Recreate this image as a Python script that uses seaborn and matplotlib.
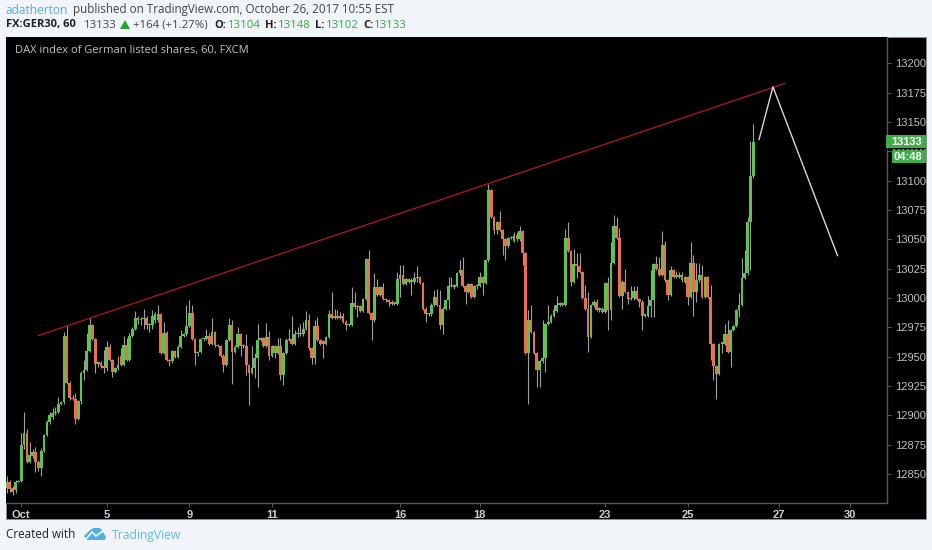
"""DAX hourly candles with hand drawn trend line, TradingView snapshot style."""
import numpy as np
import pandas as pd
import matplotlib

matplotlib.use("Agg")
import matplotlib.pyplot as plt
from matplotlib.lines import Line2D
from matplotlib.patches import Polygon, Rectangle
import seaborn as sns

W, H = 932, 550

opens = [
    12838,12843,12838,12836,12843,12844,12875,12885,12860,12865,
    12869,12860,12855,12870,12883,12894,12899,12902,12903,12910,
    12911,12968,12928,12915,12914,12897,12912,12936,12939,12955,
    12977,12965,12944,12945,12942,12940,12958,12947,12937,12940,
    12951,12943,12960,12947,12968,12974,12983,12981,12982,12983,
    12977,12977,12981,12981,12986,12953,12970,12947,12946,12955,
    12950,12958,12968,12969,12976,12987,12965,12953,12954,12965,
    12965,12968,12961,12971,12960,12959,12951,12943,
    12964,12977,12954,12958,12969,12959,12959,12943,12936,12940,
    12949,12964,12966,12959,12967,12951,12959,12953,12959,12934,
    12953,12964,12965,12961,12969,12969,12969,12974,12981,12957,
    12949,12976,12964,12963,12961,12967,12986,12983,12985,12983,
    12985,12980,12977,12977,12996,12992,12993,12989,12999,13033,
    12987,12981,13009,13003,13009,12999,12998,12997,12995,12995,
    13016,13020,13012,13016,13014,13014,13017,13018,13013,12991,
    12986,12986,12994,13001,12994,12977,12991,12998,13010,13009,
    13010,13021,
    13024,13010,13005,13012,13001,13010,13010,13018,13013,13032,
    13092,13069,13058,13065,13058,13050,13044,13051,13049,13054,
    13050,13057,13038,12953,12981,12971,12953,12939,12946,12949,
    12978,12980,12985,12989,12994,12996,12994,13051,13040,13014,
    13029,13027,13022,13000,12991,12967,12994,12997,12990,12991,
    12988,13013,12990,13030,13061,13051,13002,13014,13005,12999,
    13000,13006,12999,12997,12985,12985,12993,12998,13029,13025,
    13020,13045,13015,13003,13024,13018,13018,13020,13014,13018,
    13001,13030,13005,13015,13020,13001,13018,13001,12961,12942,
    12935,12961,12961,12969,12954,12973,12976,12990,12994,13017,
    13021,13065,13104,
]
highs = [
    12848,12845,12840,12845,12845,12885,12903,12888,12877,12871,
    12873,12862,12872,12884,12896,12903,12906,12907,12916,12912,
    12971,12976,12929,12917,12919,12913,12938,12947,12970,12983,
    12978,12966,12946,12946,12956,12963,12961,12948,12941,12951,
    12957,12968,12966,12970,12975,12989,12985,12984,12991,12985,
    12979,12990,12988,12994,12987,12980,12972,12948,12956,12956,
    12960,12973,12970,12994,12998,12994,12966,12955,12966,12967,
    12974,12970,12983,12972,12961,12960,12952,12965,
    12983,12981,12960,12975,12970,12961,12969,12944,12959,12953,
    12978,12967,12967,12979,12972,12960,12960,12966,12966,12954,
    12966,12974,12985,12973,12975,12978,12980,12989,12986,12958,
    12981,12984,12965,12964,12968,12990,13005,12991,12990,12988,
    12987,12981,12978,13009,13005,12994,12994,13000,13034,13041,
    12988,13021,13016,13010,13013,13000,12999,12998,12996,13022,
    13028,13028,13017,13017,13017,13022,13027,13019,13014,12992,
    12987,12996,13007,13008,13007,12992,12999,13018,13018,13012,
    13022,13032,
    13035,13011,13013,13013,13011,13012,13022,13019,13033,13097,
    13093,13070,13066,13074,13059,13051,13052,13053,13056,13056,
    13061,13058,13039,12990,12994,12972,12954,12947,12981,12979,
    12994,12986,12994,13002,12997,12997,13059,13065,13041,13042,
    13038,13038,13023,13011,13005,12995,12998,12999,12992,12992,
    13014,13018,13048,13071,13069,13060,13015,13025,13006,13010,
    13010,13010,13000,12998,12986,13002,13024,13030,13036,13035,
    13057,13049,13016,13027,13025,13023,13022,13022,13019,13019,
    13048,13037,13030,13030,13028,13019,13019,13011,12962,12943,
    12962,12962,12978,12981,12974,12977,12991,13004,13034,13041,
    13069,13134,13148,
]
lows = [
    12834,12835,12832,12834,12843,12843,12871,12859,12859,12864,
    12852,12853,12848,12869,12882,12893,12897,12900,12902,12909,
    12910,12927,12913,12913,12893,12896,12910,12930,12938,12954,
    12964,12936,12941,12940,12936,12938,12946,12933,12936,12939,
    12942,12942,12946,12946,12967,12973,12978,12977,12974,12974,
    12971,12974,12979,12980,12952,12952,12946,12942,12945,12949,
    12949,12957,12967,12968,12975,12964,12943,12951,12953,12963,
    12964,12960,12960,12958,12958,12950,12937,12942,
    12963,12927,12953,12957,12951,12957,12934,12909,12935,12932,
    12924,12963,12958,12958,12947,12950,12949,12952,12930,12926,
    12952,12963,12960,12960,12967,12968,12968,12973,12956,12944,
    12944,12963,12960,12949,12960,12966,12982,12982,12982,12982,
    12979,12973,12976,12976,12991,12984,12988,12988,12998,12986,
    12964,12980,13002,13002,12998,12997,12993,12994,12994,12994,
    13001,13011,13011,13013,13003,13012,13014,13012,12990,12980,
    12985,12985,12993,12993,12974,12969,12990,12991,13009,13008,
    13009,13020,
    13009,12995,13004,13000,13000,13008,13009,13003,13012,13031,
    13068,13055,13055,13057,13037,13032,13043,13050,13048,13049,
    13049,13028,12952,12910,12970,12952,12924,12924,12945,12937,
    12977,12979,12984,12988,12993,12993,12993,13039,13010,13013,
    13017,13021,12999,12990,12954,12966,12992,12989,12988,12987,
    12987,12973,12981,13029,13050,13001,12991,13004,12995,12998,
    12998,12998,12992,12973,12984,12984,12984,12984,13024,13019,
    13019,13014,12998,13002,13017,13017,13017,13014,13013,12994,
    13000,12985,12997,13014,13000,13000,13000,12947,12930,12914,
    12934,12953,12960,12953,12941,12972,12975,12984,12993,13016,
    13020,13024,13102,
]
closes = [
    12843,12837,12835,12843,12844,12875,12885,12860,12866,12869,
    12860,12855,12870,12883,12894,12900,12902,12903,12910,12911,
    12968,12928,12915,12914,12897,12912,12936,12939,12955,12977,
    12965,12944,12945,12942,12940,12958,12947,12937,12940,12943,
    12943,12960,12947,12968,12974,12983,12981,12982,12983,12977,
    12978,12985,12986,12986,12953,12970,12947,12946,12955,12950,
    12958,12968,12969,12976,12987,12965,12953,12954,12965,12965,
    12968,12961,12971,12960,12959,12951,12943,12964,
    12977,12954,12958,12969,12959,12959,12943,12936,12940,12949,
    12964,12966,12959,12967,12951,12959,12953,12959,12934,12953,
    12964,12965,12961,12969,12969,12970,12974,12981,12957,12949,
    12976,12964,12961,12961,12967,12986,12983,12985,12983,12985,
    12980,12977,12977,12996,12992,12992,12989,12999,13033,12987,
    12981,13009,13003,13009,12999,12998,12997,12995,12995,13016,
    13020,13012,13016,13014,13015,13017,13018,13013,12991,12986,
    12986,12994,13001,12994,12977,12991,12998,13010,13010,13011,
    13021,13024,
    13010,13005,13012,13001,13010,13010,13018,13013,13032,13092,
    13069,13058,13065,13058,13050,13044,13051,13051,13054,13050,
    13057,13038,12953,12981,12971,12953,12939,12946,12949,12978,
    12980,12985,12990,12994,12996,12994,13051,13040,13014,13029,
    13027,13022,13000,12991,12967,12994,12997,12990,12991,12988,
    13013,12990,13030,13061,13051,13002,13014,13005,12999,13000,
    13006,12999,12997,12985,12985,12993,12998,13029,13025,13020,
    13045,13015,13003,13024,13018,13020,13020,13015,13018,13001,
    13030,13005,13015,13020,13001,13018,13001,12961,12942,12935,
    12961,12961,12969,12954,12973,12976,12990,12994,13017,13021,
    13065,13104,13133,
]

price_ticks = list(range(12850, 13201, 25))
date_labels = ["Oct", "5", "9", "11", "16", "18", "23", "25", "27", "30"]
date_bars = [5, 35, 64, 93, 138, 166, 210, 239, 271, 296]

trend_bars = [11, 273.2]
trend_prices = [12968, 13183]
path_bars = [264, 268.9, 291.6]
path_prices = [13135, 13180, 13036]

BG = "#f1f5f9"
GREEN = "#5cc252"
RED = "#e9714c"
TICK = "#c0c0c0"


def fx(px):
    return px / W


def fy(px):
    return 1 - px / H


def put(x, y, s, color="#333333", size=8.6, weight="normal", family="Open Sans"):
    fig.text(fx(x), fy(y), s, color=color, fontsize=size, fontweight=weight,
             family=family, va="center", ha="left", zorder=6)


sns.set_style("dark")
fig = plt.figure(figsize=(W / 100, H / 100), dpi=100, facecolor=BG)

# black frame behind the plot and the price scale
fig.patches.append(Rectangle((fx(6), fy(519)), fx(920), 482 / H, transform=fig.transFigure,
                             fc="black", ec="#8f8f8f", lw=0.6, zorder=-1))

ax = fig.add_axes([fx(6), fy(503), fx(881), 466 / H], facecolor="black", zorder=1)

df = pd.DataFrame({"o": opens, "h": highs, "l": lows, "c": closes})
df["bar"] = np.arange(len(df))
df["up"] = df["c"] >= df["o"]

bar_px = (753.3 - 7) / (len(df) - 1)
ax.set_xlim(-1 / bar_px, 880 / bar_px)
ax.set_ylim(12825.3, 13222.5)

ax.vlines(df["bar"], df["l"], df["h"], color="#a0a0a0", lw=0.8, zorder=2)
body = (df["c"] - df["o"]).abs().clip(lower=1.2)
ax.bar(df["bar"], body, bottom=df[["o", "c"]].min(axis=1), width=0.95,
       color=np.where(df["up"], GREEN, RED), lw=0, zorder=3)

sns.lineplot(x=trend_bars, y=trend_prices, color="#a3171c", lw=1.0, ax=ax, zorder=4)
sns.lineplot(x=path_bars, y=path_prices, color="#d8d8d8", lw=1.0, ax=ax, zorder=4, sort=False)

for side in ("top", "left"):
    ax.spines[side].set_visible(False)
for side in ("right", "bottom"):
    ax.spines[side].set_visible(True)
    ax.spines[side].set_color("#5a5a5a")
    ax.spines[side].set_linewidth(1)

ax.grid(False)
ax.yaxis.tick_right()
ax.set_yticks(price_ticks)
# the last price tag sits on top of 13125
ax.set_yticklabels(["" if p == 13125 else str(p) for p in price_ticks])
ax.set_xticks(date_bars)
ax.set_xticklabels(date_labels)
ax.tick_params(axis="y", right=True, length=3, width=0.7, color="#5a5a5a",
               labelcolor=TICK, labelsize=8, pad=2.5)
ax.tick_params(axis="x", bottom=True, length=3, width=0.7, color="#5a5a5a",
               labelcolor="#d0d0d0", labelsize=8, pad=2)
for lab in ax.get_xticklabels() + ax.get_yticklabels():
    lab.set_family("Liberation Sans")
for lab in ax.get_xticklabels():
    lab.set_fontweight("bold")

# last price tag and countdown
fig.patches.append(Rectangle((fx(886), fy(148)), fx(40), 13 / H, transform=fig.transFigure,
                             fc="#3fae49", lw=0, zorder=5))
fig.patches.append(Rectangle((fx(892), fy(163)), fx(34), 14 / H, transform=fig.transFigure,
                             fc="#3fae49", lw=0, zorder=5))
fig.add_artist(Line2D([fx(886), fx(926)], [fy(148.5), fy(148.5)], color="black", lw=0.8,
                      ls=(0, (2, 2)), zorder=6))
fig.text(fx(922), fy(142), "13133", color="white", fontsize=8, ha="right", va="center",
         family="Liberation Sans", fontweight="bold", zorder=6)
fig.text(fx(922), fy(156.5), "04:48", color="white", fontsize=8, ha="right", va="center",
         family="Liberation Sans", fontweight="bold", zorder=6)

put(15, 51, "DAX index of German listed shares, 60, FXCM", color="#c4c4c4", size=8)

# header lines
put(6, 10, "adatherton", color="#4eb0df", size=8.6)
put(73, 10, "published on TradingView.com, October 26, 2017 10:55 EST", color="#444444", size=8.35)
put(6, 25, "FX:GER30, 60", color="#222222", size=8, weight="bold")
put(84, 25, "13133", color="#444444", size=8.2)
fig.patches.append(Polygon([[fx(120), fy(29)], [fx(130), fy(29)], [fx(125), fy(20)]],
                           transform=fig.transFigure, fc="#22a52c", lw=0))
put(133, 25, "+164 (+1.27%)", color="#444444", size=8.2)
for x, s in zip([214, 265, 315, 363], ["O:", "H:", "L:", "C:"]):
    put(x, 25, s, color="#222222", size=8, weight="bold")
for x, s in zip([228, 278, 326, 374], ["13104", "13148", "13102", "13133"]):
    put(x, 25, s, color="#35a83f", size=8.2)

# footer
put(6, 535, "Created with", color="#222222", size=8.4)
fig.patches.append(Polygon([[fx(x), fy(y)] for x, y in
                            [(84, 536), (90, 530), (94, 528), (100, 528), (103, 532),
                             (106, 537), (105, 540), (87, 540)]],
                           transform=fig.transFigure, fc="#4eb0df", lw=0, zorder=4))
fig.add_artist(Line2D([fx(86), fx(92), fx(96), fx(103)], [fy(539), fy(532), fy(536), fy(531)],
                      color=BG, lw=1.2, zorder=5))
put(112, 535, "TradingView", color="#62b7e2", size=8.7)

fig.savefig("out.png", dpi=100, facecolor=BG)
